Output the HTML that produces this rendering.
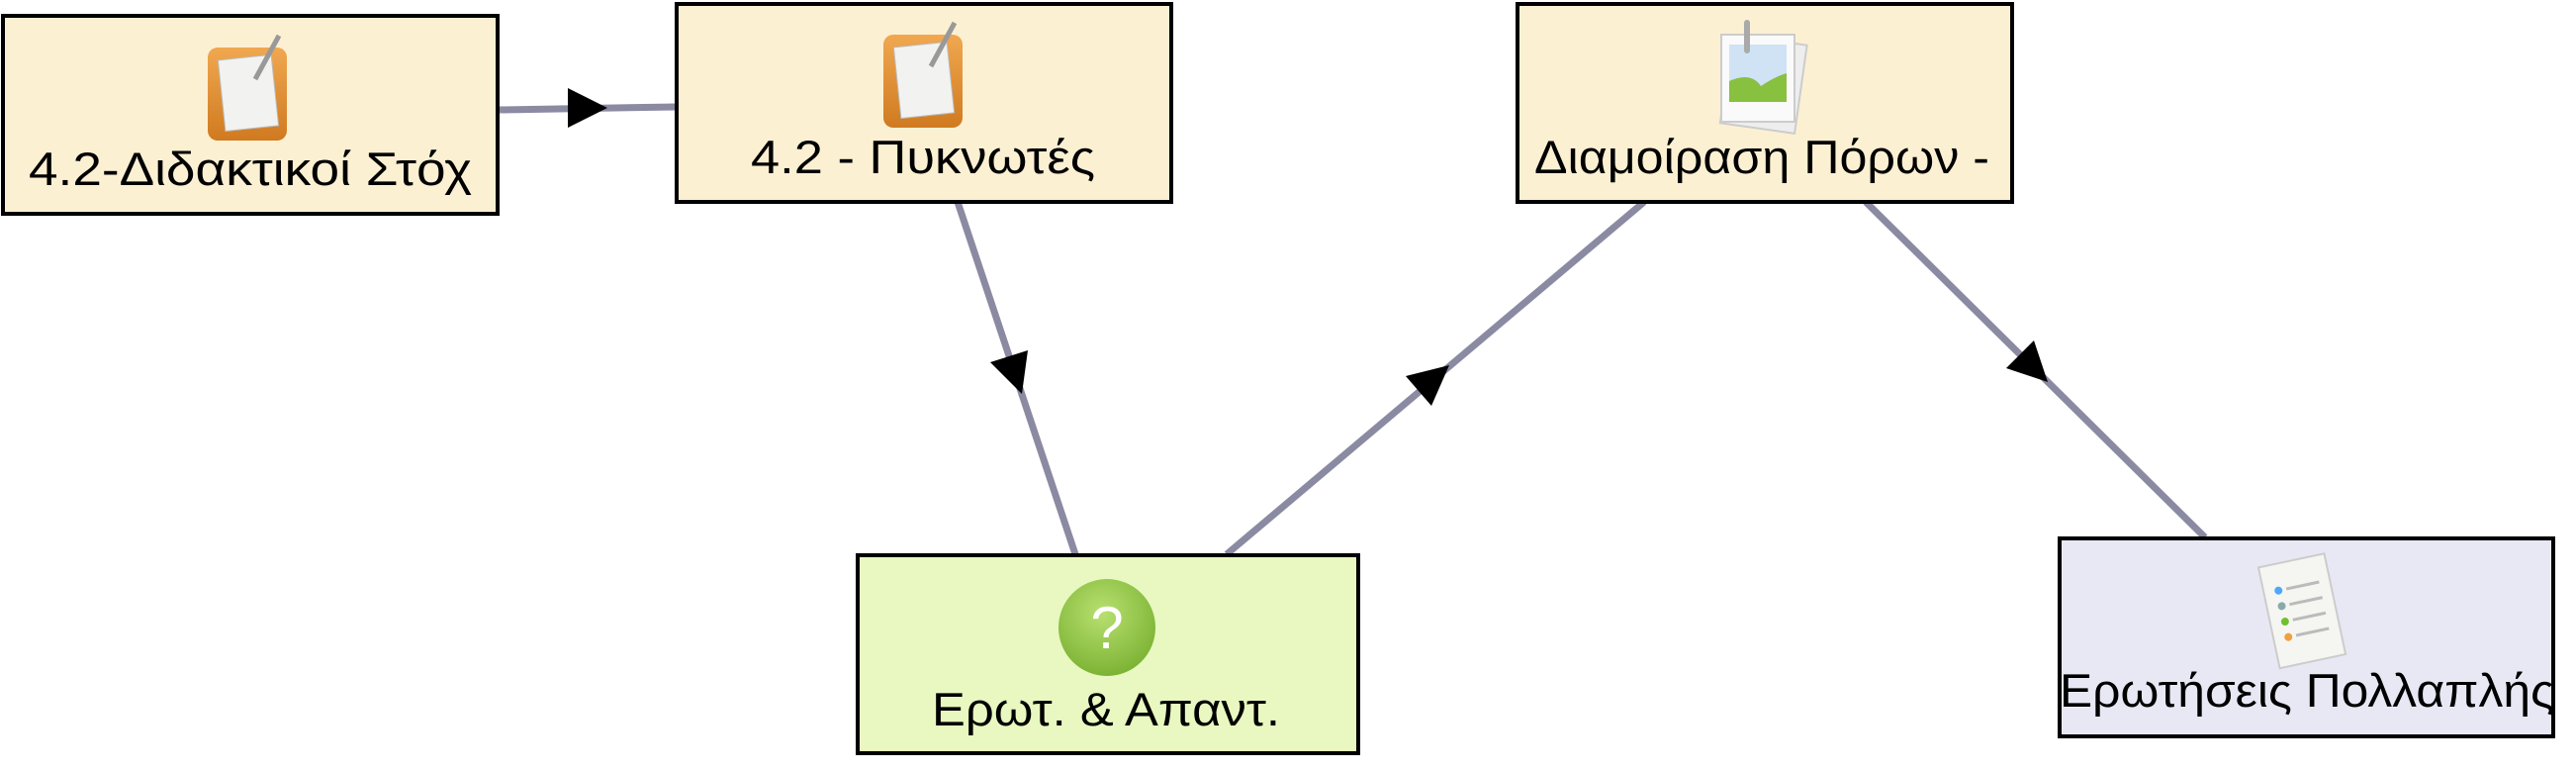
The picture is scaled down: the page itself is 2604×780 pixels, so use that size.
<!DOCTYPE html>
<html><head><meta charset="utf-8"><style>html,body{margin:0;padding:0;background:#fff}svg{display:block}</style></head>
<body>
<svg width="2604" height="780" viewBox="0 0 2604 780" xmlns="http://www.w3.org/2000/svg" font-family="'Liberation Sans', 'DejaVu Sans', sans-serif">
<defs>
<clipPath id="c5"><rect x="2081" y="543" width="500" height="201"/></clipPath>
<linearGradient id="org" x1="0" y1="0" x2="0" y2="1"><stop offset="0" stop-color="#f0a850"/><stop offset="1" stop-color="#d07a20"/></linearGradient>
<radialGradient id="grn" cx="0.45" cy="0.35" r="0.7"><stop offset="0" stop-color="#b8e070"/><stop offset="1" stop-color="#78b030"/></radialGradient>
</defs>
<g stroke="#8a8aa2" stroke-width="7" fill="none">
<line x1="505" y1="111" x2="683" y2="108"/>
<line x1="968" y1="204" x2="1087" y2="560"/>
<line x1="1240" y1="560" x2="1662" y2="204"/>
<line x1="1886" y1="204" x2="2229" y2="543"/>
</g>
<g fill="#000">
<polygon points="614,109 574,89 574,129"/>
<polygon points="1033,398 1039,354 1001,366"/>
<polygon points="1465,369 1447,410 1421,380"/>
<polygon points="2070,386 2056,344 2028,372"/>
</g>
<g stroke="#000" stroke-width="4">
<rect x="3" y="16" width="500" height="200" fill="#fcf0d3"/>
<rect x="684" y="4" width="500" height="200" fill="#fcf0d3"/>
<rect x="867" y="561" width="506" height="200" fill="#e8f8c0"/>
<rect x="1534" y="4" width="500" height="200" fill="#fcf0d3"/>
<rect x="2082" y="544" width="499" height="200" fill="#e8e8f5"/>
</g>
<g>
<rect x="210" y="48" width="80" height="94" rx="10" fill="url(#org)"/>
<rect x="224" y="58" width="54" height="72" fill="#f2f2f0" stroke="#bbb" stroke-width="1" transform="rotate(-6 250 94)"/>
<line x1="258" y1="80" x2="282" y2="36" stroke="#999" stroke-width="5"/>
<rect x="893" y="35" width="80" height="94" rx="10" fill="url(#org)"/>
<rect x="907" y="45" width="54" height="72" fill="#f2f2f0" stroke="#bbb" stroke-width="1" transform="rotate(-6 933 81)"/>
<line x1="941" y1="67" x2="965" y2="23" stroke="#999" stroke-width="5"/>
<rect x="1745" y="40" width="76" height="90" fill="#eee" stroke="#ccc" stroke-width="2" transform="rotate(8 1783 83)"/>
<rect x="1740" y="35" width="74" height="88" fill="#fafafa" stroke="#ccc" stroke-width="2"/>
<rect x="1748" y="45" width="58" height="58" fill="#cfe3f5"/>
<path d="M1748 103 L1748 82 Q1770 72 1780 87 Q1795 77 1806 74 L1806 103 Z" fill="#88c040"/>
<rect x="1763" y="20" width="6" height="34" rx="3" fill="#aaa"/>
<circle cx="1119" cy="634" r="49" fill="url(#grn)"/>
<text x="1119" y="655" font-size="60" fill="#fff" text-anchor="middle">?</text>
<g transform="rotate(-12 2328 617)">
<rect x="2293" y="565" width="68" height="104" fill="#f5f5f2" stroke="#ccc" stroke-width="2"/>
<circle cx="2308" cy="592" r="4" fill="#4aa8ff"/><line x1="2316" y1="592" x2="2350" y2="592" stroke="#bbb" stroke-width="3"/>
<circle cx="2308" cy="608" r="4" fill="#8aa"/><line x1="2316" y1="608" x2="2350" y2="608" stroke="#bbb" stroke-width="3"/>
<circle cx="2308" cy="624" r="4" fill="#70c030"/><line x1="2316" y1="624" x2="2350" y2="624" stroke="#bbb" stroke-width="3"/>
<circle cx="2308" cy="640" r="4" fill="#f0a040"/><line x1="2316" y1="640" x2="2350" y2="640" stroke="#bbb" stroke-width="3"/>
</g>
</g>
<g font-size="47" fill="#000">
<text x="29" y="187" textLength="448" lengthAdjust="spacingAndGlyphs">4.2-Διδακτικοί Στόχ</text>
<text x="759" y="175" textLength="348" lengthAdjust="spacingAndGlyphs">4.2 - Πυκνωτές</text>
<text x="942" y="733" textLength="352" lengthAdjust="spacingAndGlyphs">Ερωτ. &amp; Απαντ.</text>
<text x="1551" y="175" textLength="460" lengthAdjust="spacingAndGlyphs">Διαμοίραση Πόρων -</text>
<text x="2082" y="714" textLength="500" lengthAdjust="spacingAndGlyphs" clip-path="url(#c5)">Ερωτήσεις Πολλαπλής</text>
</g>
</svg>
</body></html>
